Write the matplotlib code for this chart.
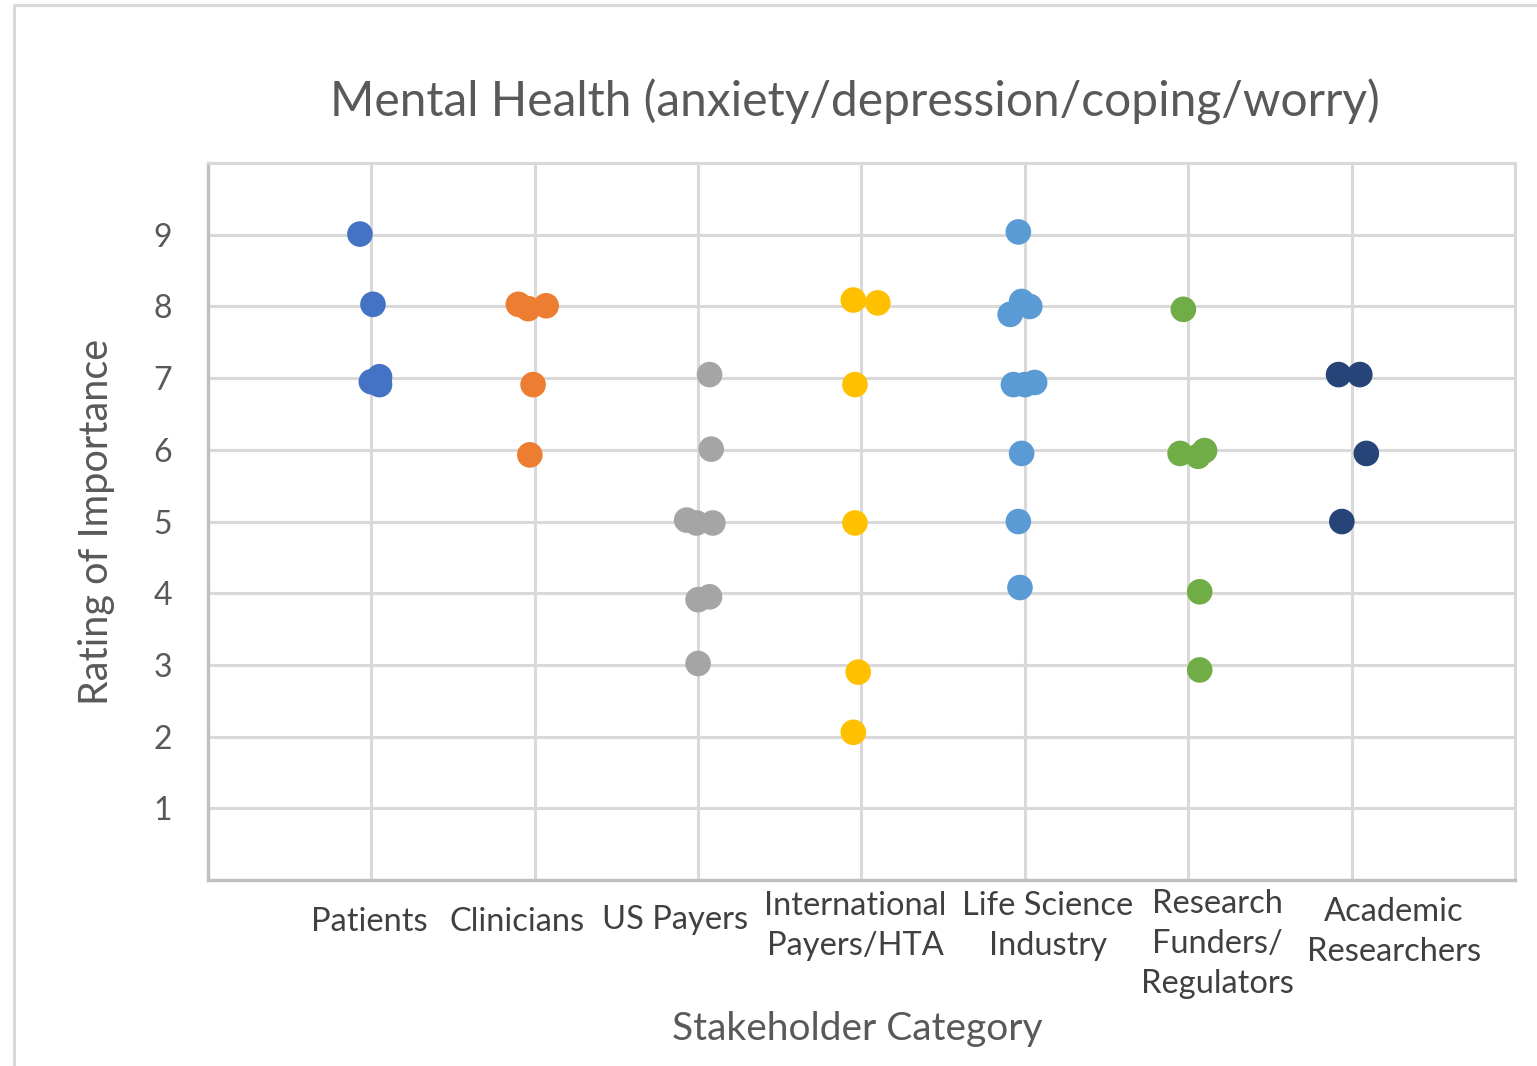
"""Mental Health importance ratings by stakeholder category (dot strip chart)."""

import matplotlib

matplotlib.use("Agg")
import matplotlib.pyplot as plt
from matplotlib.lines import Line2D

plt.rcParams["font.family"] = ["Lato", "DejaVu Sans"]

TEXT = "#595959"
GRID = "#D9D9D9"
AXIS = "#BFBFBF"

categories = [
    "Patients",
    "Clinicians",
    "US Payers",
    "International\nPayers/HTA",
    "Life Science\nIndustry",
    "Research\nFunders/\nRegulators",
    "Academic\nResearchers",
]
colors = ["#4472C4", "#ED7D31", "#A5A5A5", "#FFC000", "#5B9BD5", "#70AD47", "#264478"]

# x = category position incl. the jitter seen in the picture, y = rating
patients_x = [0.93, 1.01, 1.00, 1.05, 1.05]
patients_y = [9.01, 8.03, 6.95, 7.02, 6.91]
clinicians_x = [1.90, 1.96, 2.07, 1.99, 1.97]
clinicians_y = [8.03, 7.97, 8.01, 6.91, 5.93]
us_payers_x = [3.07, 3.08, 2.93, 2.99, 3.09, 3.00, 3.07, 3.00]
us_payers_y = [7.05, 6.01, 5.02, 4.98, 4.98, 3.91, 3.95, 3.02]
intl_x = [3.95, 4.10, 3.96, 3.96, 3.98, 3.95]
intl_y = [8.09, 8.05, 6.91, 4.98, 2.90, 2.06]
life_sci_x = [4.96, 4.91, 4.98, 5.03, 4.93, 5.00, 5.06, 4.98, 4.96, 4.97]
life_sci_y = [9.04, 7.89, 8.07, 8.00, 6.91, 6.91, 6.94, 5.95, 5.00, 4.08]
funders_x = [5.97, 5.95, 6.06, 6.10, 6.07, 6.07]
funders_y = [7.96, 5.95, 5.91, 5.99, 4.02, 2.93]
academic_x = [6.92, 7.05, 7.09, 6.94]
academic_y = [7.05, 7.05, 5.95, 5.00]

series_x = [patients_x, clinicians_x, us_payers_x, intl_x, life_sci_x, funders_x, academic_x]
series_y = [patients_y, clinicians_y, us_payers_y, intl_y, life_sci_y, funders_y, academic_y]

# where the category captions sit (data x, data y of block centre)
label_x = [0.99, 1.89, 2.86, 3.96, 5.14, 6.18, 7.26]
label_y = [-0.59, -0.59, -0.56, -0.64, -0.64, -0.89, -0.72]

fig = plt.figure(figsize=(15.37, 10.66), dpi=100)
ax = fig.add_axes([0.1353, 0.1745, 0.8504, 0.6725])

for xs, ys, c in zip(series_x, series_y, colors):
    ax.scatter(xs, ys, s=340, color=c, edgecolors="none", zorder=3)

ax.set_xlim(0, 8)
ax.set_ylim(0, 10)
ax.set_xticks(range(0, 9))
ax.set_xticklabels([])
ax.set_yticks(range(0, 11))
ax.set_yticklabels([""] + [str(v) for v in range(1, 10)] + [""])
ax.tick_params(length=0, labelsize=23, labelcolor=TEXT, pad=26)
ax.grid(True, color=GRID, linewidth=2.2, zorder=0)
ax.set_axisbelow(True)
for side in ("top", "right"):
    ax.spines[side].set_color(GRID)
    ax.spines[side].set_linewidth(2.2)
for side in ("left", "bottom"):
    ax.spines[side].set_color(AXIS)
    ax.spines[side].set_linewidth(2.4)

for name, lx, ly in zip(categories, label_x, label_y):
    ax.text(lx, ly, name, ha="center", va="center", fontsize=23.5, color="#404040",
            linespacing=1.42, clip_on=False)

fig.text(0.556, 0.904, "Mental Health (anxiety/depression/coping/worry)",
         ha="center", va="center", fontsize=34.5, color=TEXT)
fig.text(0.5576, 0.0345, "Stakeholder Category", ha="center", va="center",
         fontsize=28, color=TEXT)
fig.text(0.063, 0.5103, "Rating of Importance", ha="center", va="center",
         rotation=90, fontsize=28.5, color=TEXT)

# outer chart-area frame (only left and top edges are in view)
bx = 14 / 1537
by = 1 - 5 / 1066
fig.add_artist(Line2D([bx, bx, 1.0], [0.0, by, by], transform=fig.transFigure,
                      color=GRID, linewidth=2.2))

fig.savefig("out.png", dpi=100)
